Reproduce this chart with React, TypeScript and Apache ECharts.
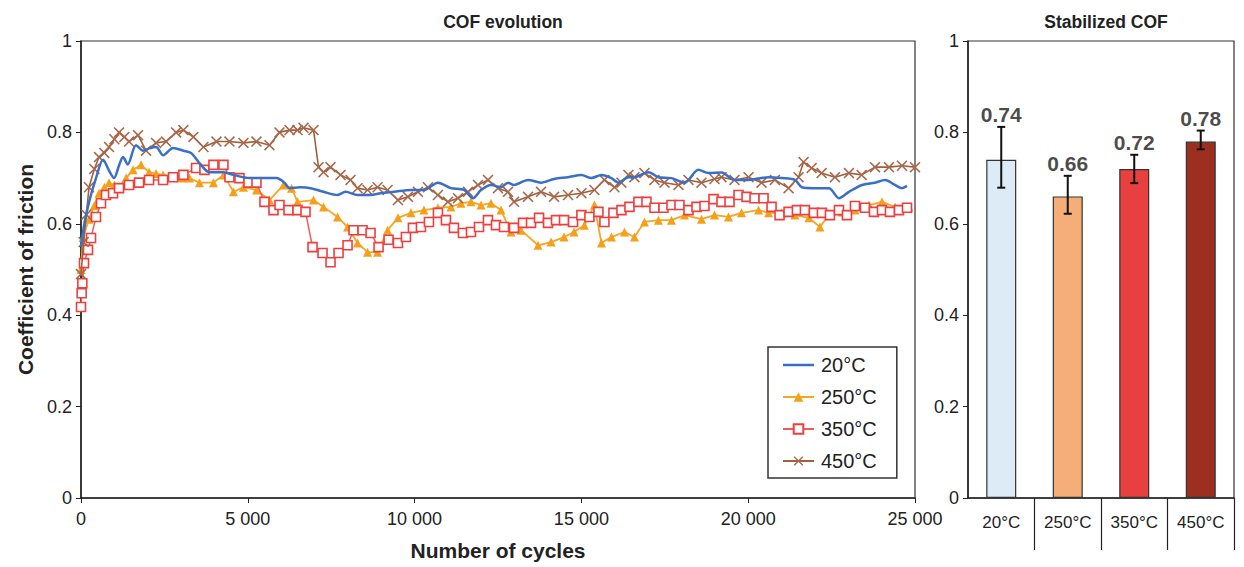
import React, { useEffect, useRef } from "react";
import * as echarts from "echarts";

// ---------- data ----------
const seriesNames = ["20°C", "250°C", "350°C", "450°C"];

const cof20: number[][] = [
  [0, 0.55], [100, 0.6], [250, 0.65], [450, 0.7], [660, 0.74], [850, 0.715], [990, 0.7], [1150, 0.73],
  [1260, 0.746], [1400, 0.73], [1650, 0.772], [1860, 0.76], [2050, 0.765], [2250, 0.768], [2460, 0.75],
  [2760, 0.766], [3070, 0.76], [3300, 0.755], [3550, 0.733], [3850, 0.713], [4270, 0.713], [4570, 0.707],
  [5050, 0.7], [5470, 0.7], [5860, 0.7], [6100, 0.69], [6250, 0.678], [6580, 0.68], [6880, 0.678],
  [7270, 0.67], [7690, 0.663], [7930, 0.67], [8290, 0.663], [8680, 0.663], [8980, 0.667], [9380, 0.67],
  [9890, 0.674], [10280, 0.674], [10700, 0.69], [11090, 0.678], [11480, 0.674], [11750, 0.656],
  [11990, 0.674], [12290, 0.685], [12590, 0.68], [12800, 0.69], [12980, 0.685], [13400, 0.696],
  [13790, 0.69], [14180, 0.698], [14600, 0.702], [15000, 0.707], [15300, 0.7], [15600, 0.707],
  [15900, 0.7], [16110, 0.69], [16410, 0.702], [16590, 0.702], [17010, 0.713], [17310, 0.702],
  [17700, 0.7], [18090, 0.69], [18510, 0.718], [18810, 0.711], [19200, 0.712], [19590, 0.696],
  [20010, 0.696], [20610, 0.702], [21000, 0.7], [21400, 0.696], [21610, 0.68], [22000, 0.678],
  [22420, 0.678], [22720, 0.656], [23020, 0.67], [23410, 0.685], [23800, 0.69], [24100, 0.696],
  [24400, 0.685], [24610, 0.678], [24760, 0.683],
];

const cof250: number[][] = [
  [0, 0.5], [60, 0.57], [240, 0.61], [400, 0.64], [540, 0.667], [700, 0.68], [840, 0.69], [1000, 0.685],
  [1140, 0.68], [1350, 0.7], [1560, 0.718], [1800, 0.729], [2040, 0.713], [2250, 0.71], [2460, 0.707],
  [2650, 0.705], [2850, 0.702], [3050, 0.7], [3250, 0.7], [3550, 0.69], [3970, 0.69], [4270, 0.707],
  [4570, 0.67], [4870, 0.68], [5260, 0.674], [5650, 0.652], [6070, 0.685], [6310, 0.678], [6490, 0.648],
  [6970, 0.652], [7270, 0.637], [7690, 0.615], [7990, 0.593], [8290, 0.558], [8590, 0.538], [8890, 0.538],
  [9190, 0.586], [9500, 0.613], [9890, 0.624], [10280, 0.63], [10700, 0.635], [11090, 0.637],
  [11390, 0.645], [11690, 0.648], [11990, 0.641], [12290, 0.645], [12590, 0.63], [12890, 0.582],
  [13190, 0.586], [13700, 0.553], [14090, 0.56], [14480, 0.571], [14780, 0.582], [15090, 0.597],
  [15390, 0.641], [15600, 0.558], [15900, 0.571], [16290, 0.582], [16590, 0.571], [16890, 0.604],
  [17310, 0.608], [17700, 0.608], [18090, 0.619], [18600, 0.61], [18990, 0.619], [19410, 0.615],
  [19800, 0.624], [20310, 0.63], [20610, 0.624], [21000, 0.624], [21400, 0.619], [21820, 0.613],
  [22150, 0.593], [22420, 0.619], [22810, 0.626], [23200, 0.63], [23620, 0.641], [24010, 0.648],
  [24400, 0.637], [24820, 0.637],
];

const cof350: number[][] = [
  [0, 0.418], [20, 0.448], [40, 0.47], [90, 0.514], [210, 0.543], [300, 0.569], [450, 0.615], [600, 0.645],
  [750, 0.663], [960, 0.667], [1140, 0.678], [1440, 0.685], [1740, 0.69], [2040, 0.696], [2460, 0.696],
  [2760, 0.702], [3070, 0.707], [3450, 0.722], [3700, 0.718], [3970, 0.729], [4270, 0.729], [4450, 0.702],
  [4750, 0.7], [5020, 0.69], [5260, 0.69], [5500, 0.648], [5770, 0.63], [5950, 0.641], [6220, 0.63],
  [6490, 0.63], [6730, 0.626], [6940, 0.549], [7240, 0.536], [7480, 0.516], [7720, 0.536], [7990, 0.553],
  [8170, 0.586], [8440, 0.586], [8680, 0.58], [8920, 0.549], [9220, 0.565], [9500, 0.558], [9740, 0.571],
  [9950, 0.591], [10190, 0.593], [10430, 0.604], [10700, 0.624], [10940, 0.608], [11180, 0.591],
  [11450, 0.58], [11690, 0.582], [11930, 0.593], [12200, 0.608], [12440, 0.597], [12680, 0.593],
  [12980, 0.591], [13250, 0.602], [13490, 0.602], [13730, 0.613], [14000, 0.602], [14240, 0.608],
  [14480, 0.608], [14750, 0.604], [15000, 0.619], [15240, 0.615], [15510, 0.626], [15690, 0.604],
  [15960, 0.624], [16200, 0.63], [16440, 0.637], [16710, 0.648], [16950, 0.648], [17190, 0.635],
  [17460, 0.635], [17700, 0.641], [17940, 0.641], [18210, 0.63], [18450, 0.637], [18690, 0.639],
  [18960, 0.654], [19200, 0.648], [19440, 0.648], [19710, 0.663], [19950, 0.659], [20190, 0.656],
  [20460, 0.656], [20700, 0.637], [20940, 0.619], [21210, 0.626], [21460, 0.63], [21700, 0.63],
  [21970, 0.624], [22210, 0.624], [22450, 0.619], [22720, 0.63], [22960, 0.619], [23200, 0.639],
  [23500, 0.635], [23770, 0.626], [24010, 0.63], [24250, 0.626], [24520, 0.63], [24760, 0.635],
];

const cof450: number[][] = [
  [0, 0.49], [80, 0.56], [160, 0.62], [240, 0.68], [400, 0.72], [540, 0.746], [700, 0.755], [840, 0.768],
  [1000, 0.785], [1140, 0.8], [1300, 0.79], [1440, 0.78], [1710, 0.794], [1950, 0.76], [2250, 0.777],
  [2550, 0.78], [2850, 0.8], [3070, 0.805], [3370, 0.79], [3670, 0.768], [4060, 0.78], [4450, 0.78],
  [4870, 0.777], [5260, 0.78], [5650, 0.772], [5950, 0.8], [6250, 0.805], [6490, 0.805], [6670, 0.81],
  [6970, 0.805], [7120, 0.724], [7270, 0.713], [7480, 0.724], [7780, 0.707], [8080, 0.696], [8290, 0.678],
  [8590, 0.674], [8890, 0.68], [9190, 0.674], [9500, 0.652], [9800, 0.659], [10100, 0.67], [10400, 0.68],
  [10700, 0.663], [11000, 0.648], [11300, 0.656], [11600, 0.67], [11900, 0.685], [12200, 0.696],
  [12500, 0.678], [12800, 0.67], [12980, 0.648], [13400, 0.659], [13790, 0.67], [14180, 0.659],
  [14600, 0.663], [15000, 0.667], [15390, 0.674], [15690, 0.696], [15990, 0.68], [16200, 0.69],
  [16410, 0.707], [16590, 0.702], [16890, 0.711], [17190, 0.696], [17490, 0.69], [17910, 0.685],
  [18210, 0.696], [18600, 0.69], [18990, 0.698], [19200, 0.702], [19590, 0.696], [20010, 0.702],
  [20400, 0.69], [20800, 0.696], [21210, 0.678], [21510, 0.702], [21660, 0.735], [21900, 0.722],
  [22200, 0.711], [22600, 0.702], [23020, 0.711], [23400, 0.707], [23800, 0.724], [24220, 0.724],
  [24610, 0.727], [25000, 0.724],
];

const barCategories = ["20°C", "250°C", "350°C", "450°C"];
const barMeans = [0.74, 0.66, 0.72, 0.78];
const errLow = [0.679, 0.622, 0.689, 0.763];
const errHigh = [0.812, 0.705, 0.751, 0.804];
const barColors = ["#DDEBF7", "#F6AE78", "#E8403F", "#9C2F1F"];

const fmtThousands = (v: number) =>
  String(v).replace(/\B(?=(\d{3})+(?!\d))/g, " ");

const crossPath =
  "path://M0,1L1,0L5,4L9,0L10,1L6,5L10,9L9,10L5,6L1,10L0,9L4,5Z";
const linePath = "path://M0,0L32,0L32,2.6L0,2.6Z";

export default function App() {
  const ref = useRef<HTMLDivElement>(null);

  useEffect(() => {
    if (!ref.current) return;
    const chart = echarts.init(ref.current, undefined, { renderer: "svg" });
    const font = "Liberation Sans, Arial, sans-serif";
    const axisColor = "#222";
    const labelStyle = { color: "#222", fontSize: 18, fontFamily: font };
    const yFmt = (v: number) => String(Number(v.toFixed(1)));

    chart.setOption({
      animation: false,
      backgroundColor: "#fff",
      textStyle: { fontFamily: font },
      title: [
        {
          text: "COF evolution",
          left: 498,
          textAlign: "center",
          top: 8,
          textStyle: { fontSize: 17.5, fontWeight: "bold", color: "#222", fontFamily: font },
        },
        {
          text: "Stabilized COF",
          left: 1101,
          textAlign: "center",
          top: 8,
          textStyle: { fontSize: 17.5, fontWeight: "bold", color: "#222", fontFamily: font },
        },
      ],
      legend: {
        orient: "vertical",
        left: 768,
        top: 347,
        data: [
          { name: seriesNames[0], icon: linePath },
          { name: seriesNames[1] },
          { name: seriesNames[2] },
          { name: seriesNames[3] },
        ],
        itemWidth: 31,
        itemHeight: 12,
        itemGap: 12,
        padding: [8, 20, 7, 14],
        borderColor: "#333",
        borderWidth: 1.5,
        backgroundColor: "#fff",
        textStyle: { fontSize: 20, color: "#222", fontFamily: font, padding: [0, 0, 0, 2] },
      },
      grid: [
        { left: 81, right: 329, top: 41, bottom: 69, show: true, borderColor: "#333", borderWidth: 1.2 },
        { left: 968, right: 10, top: 41, bottom: 69, show: true, borderColor: "#333", borderWidth: 1.2 },
      ],
      xAxis: [
        {
          type: "value",
          gridIndex: 0,
          min: 0,
          max: 25000,
          interval: 5000,
          splitLine: { show: false },
          axisLine: { lineStyle: { color: axisColor, width: 1.5 } },
          axisTick: { show: true, length: 5, lineStyle: { color: axisColor } },
          axisLabel: { ...labelStyle, margin: 12, formatter: (v: number) => fmtThousands(v) },
          name: "Number of cycles",
          nameLocation: "middle",
          nameGap: 42,
          nameTextStyle: { fontSize: 21, fontWeight: "bold", color: "#222", fontFamily: font },
        },
        {
          type: "category",
          gridIndex: 1,
          data: barCategories,
          axisLine: { lineStyle: { color: axisColor, width: 1.5 } },
          axisTick: {
            show: true,
            length: 52,
            interval: (i: number) => i > 0,
            lineStyle: { color: axisColor, width: 1.2 },
          },
          axisLabel: { ...labelStyle, fontSize: 17, margin: 16 },
        },
      ],
      yAxis: [
        {
          type: "value",
          gridIndex: 0,
          min: 0,
          max: 1,
          interval: 0.2,
          splitLine: { show: false },
          axisLine: { show: true, lineStyle: { color: axisColor, width: 1.5 } },
          axisTick: { show: true, length: 5, lineStyle: { color: axisColor } },
          axisLabel: { ...labelStyle, margin: 9, formatter: yFmt },
          name: "Coefficient of friction",
          nameLocation: "middle",
          nameGap: 43,
          nameTextStyle: { fontSize: 21, fontWeight: "bold", color: "#222", fontFamily: font },
        },
        {
          type: "value",
          gridIndex: 1,
          min: 0,
          max: 1,
          interval: 0.2,
          splitLine: { show: false },
          axisLine: { show: true, lineStyle: { color: axisColor, width: 1.5 } },
          axisTick: { show: true, length: 5, lineStyle: { color: axisColor } },
          axisLabel: { ...labelStyle, margin: 9, formatter: yFmt },
        },
      ],
      series: [
        {
          name: seriesNames[0],
          type: "line",
          xAxisIndex: 0,
          yAxisIndex: 0,
          data: cof20,
          showSymbol: false,
          symbol: "none",
          smooth: 0.3,
          z: 6,
          lineStyle: { color: "#3A6FC8", width: 2.5 },
          itemStyle: { color: "#3A6FC8" },
        },
        {
          name: seriesNames[1],
          type: "line",
          xAxisIndex: 0,
          yAxisIndex: 0,
          data: cof250,
          symbol: "triangle",
          symbolSize: 9,
          z: 3,
          lineStyle: { color: "#F5A623", width: 1.8 },
          itemStyle: { color: "#F5A01A", borderWidth: 0 },
        },
        {
          name: seriesNames[2],
          type: "line",
          xAxisIndex: 0,
          yAxisIndex: 0,
          data: cof350,
          symbol: "rect",
          symbolSize: 9,
          z: 4,
          lineStyle: { color: "#EF5B5B", width: 1.5 },
          itemStyle: { color: "#fff", borderColor: "#EE3F3F", borderWidth: 1.6 },
        },
        {
          name: seriesNames[3],
          type: "line",
          xAxisIndex: 0,
          yAxisIndex: 0,
          data: cof450,
          symbol: crossPath,
          symbolSize: 11,
          z: 5,
          lineStyle: { color: "#A0603C", width: 1.6 },
          itemStyle: { color: "#A8674A" },
        },
        {
          name: "Stabilized COF",
          type: "bar",
          xAxisIndex: 1,
          yAxisIndex: 1,
          barWidth: 30,
          data: barMeans.map((v, i) => ({
            value: v,
            itemStyle: { color: barColors[i], borderColor: "#333", borderWidth: 1.2 },
          })),
        },
        {
          name: "error",
          type: "custom",
          xAxisIndex: 1,
          yAxisIndex: 1,
          z: 10,
          data: barCategories.map((c, i) => [i, errLow[i], errHigh[i]]),
          encode: { x: 0, y: [1, 2] },
          renderItem: (params: any, api: any) => {
            const x = api.value(0);
            const lo = api.coord([x, api.value(1)]);
            const hi = api.coord([x, api.value(2)]);
            const st = { stroke: "#111", lineWidth: 2 };
            return {
              type: "group",
              children: [
                { type: "line", shape: { x1: lo[0], y1: lo[1], x2: hi[0], y2: hi[1] }, style: st },
                { type: "line", shape: { x1: lo[0] - 4, y1: lo[1], x2: lo[0] + 4, y2: lo[1] }, style: st },
                { type: "line", shape: { x1: hi[0] - 4, y1: hi[1], x2: hi[0] + 4, y2: hi[1] }, style: st },
              ],
            };
          },
        },
        {
          name: "labels",
          type: "scatter",
          xAxisIndex: 1,
          yAxisIndex: 1,
          symbolSize: 0,
          data: barCategories.map((c, i) => [i, errHigh[i]]),
          label: {
            show: true,
            position: "top",
            distance: 2,
            formatter: (p: any) => barMeans[p.dataIndex].toFixed(2),
            fontSize: 21,
            fontWeight: "bold",
            color: "#1a1a1a",
            fontFamily: font,
          },
        },
      ],
    });

    return () => chart.dispose();
  }, []);

  return (
    <div
      ref={ref}
      style={{ position: "fixed", left: 0, top: 0, width: 1244, height: 567, background: "#fff" }}
    />
  );
}
